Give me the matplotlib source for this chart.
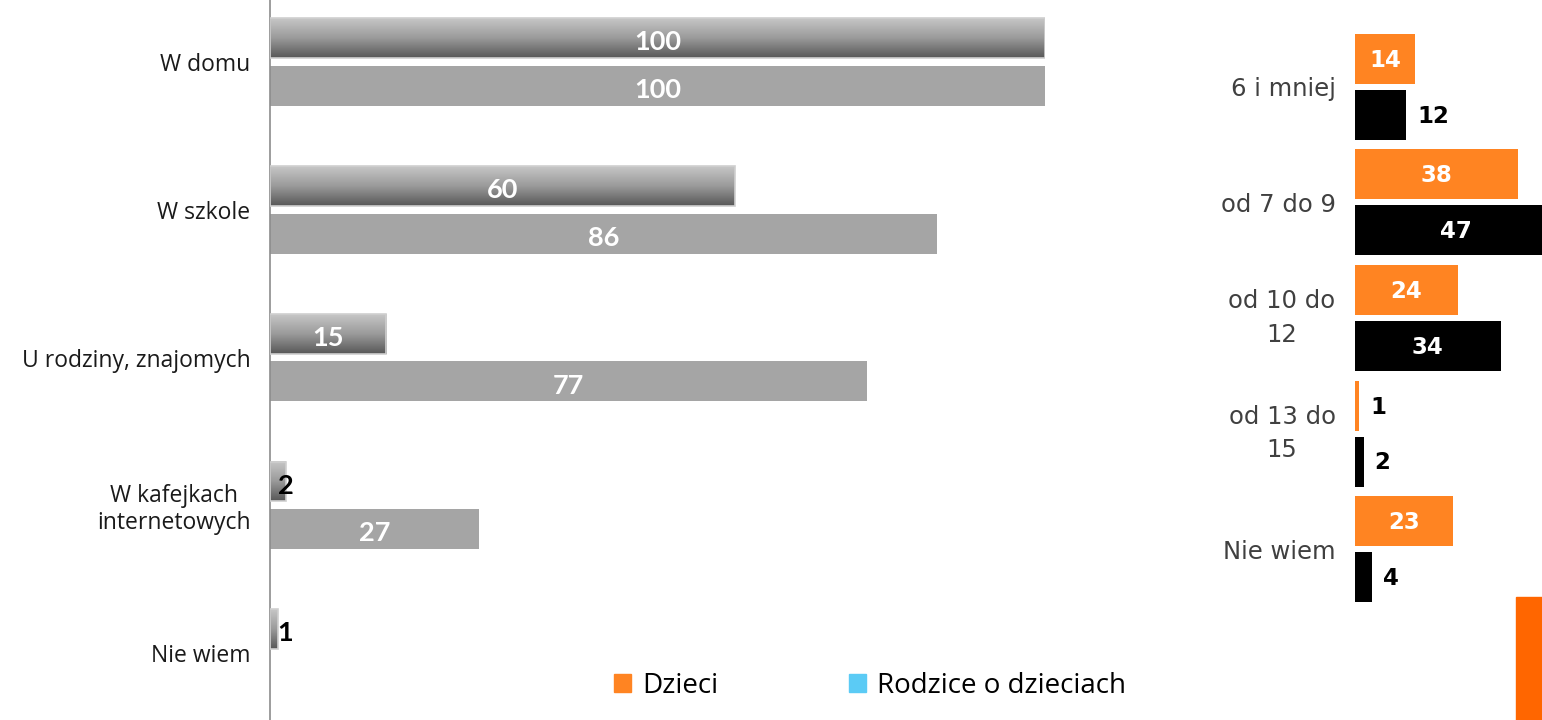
import numpy as np
import matplotlib
matplotlib.use("Agg")
import matplotlib.pyplot as plt
from matplotlib.patches import Rectangle, Patch
from matplotlib.colors import LinearSegmentedColormap

# Left panel: where children use the internet
places = ["W domu", "W szkole", "U rodziny, znajomych", "W kafejkach\ninternetowych", "Nie wiem"]
places_dzieci = [100, 60, 15, 2, 1]
places_rodzice = [100, 86, 77, 27, 0]

# Right panel: age of first use
ages = ["6 i mniej", "od 7 do 9", "od 10 do\n12", "od 13 do\n15", "Nie wiem"]
ages_dzieci = [14, 38, 24, 1, 23]
ages_rodzice = [12, 47, 34, 2, 4]

ORANGE = "#FF8422"
BLUE = "#5BCBF5"
FLAT_GRAY = "#A5A5A5"
DARK_TEXT = "#1A1A1A"
GRAD = LinearSegmentedColormap.from_list("grad", ["#C6C6C6", "#9A9A9A", "#585858"])

W, H = 1542, 720
fig = plt.figure(figsize=(W / 100, H / 100), dpi=100)

# ---------------------------------------------------------------- left panel
axl = fig.add_axes([270 / W, 0, 775 / W, 1])
axl.set_xlim(0, 100)
axl.set_ylim(4.453, -0.42)
bh = 0.27
off = 0.161
grad = np.linspace(0, 1, 64).reshape(-1, 1)
for i, (d, r) in enumerate(zip(places_dzieci, places_rodzice)):
    yt = i - off
    if d > 0:
        # gradient-filled bar (Dzieci)
        axl.imshow(grad, cmap=GRAD, aspect="auto", interpolation="bilinear",
                   extent=(0, d, yt + bh / 2, yt - bh / 2), zorder=2)
        axl.add_patch(Rectangle((0, yt - bh / 2), d, bh, fill=False,
                                edgecolor="#CFCFCF", linewidth=1.2, zorder=3))
    yb = i + off
    axl.barh(yb, r, height=bh, color=FLAT_GRAY, zorder=2)

    for val, yy in ((d, yt), (r, yb)):
        if val == 0:
            continue
        if val >= 10:
            axl.annotate(str(val), (val / 2, yy), xytext=(0, -3), textcoords="offset points",
                         ha="center", va="center", color="white", fontsize=19.5,
                         fontweight="bold", family="Lato", zorder=4)
        else:
            axl.annotate(str(val), (2, yy), xytext=(0, -3), textcoords="offset points",
                         ha="center", va="center", color="black", fontsize=19.5,
                         fontweight="bold", family="Lato", zorder=4)
axl.set_xlim(0, 100)
axl.set_ylim(4.453, -0.42)
axl.set_yticks(range(len(places)))
axl.set_yticklabels(places, fontsize=16.5, family="Open Sans", color=DARK_TEXT,
                    linespacing=1.15)
for lbl in axl.get_yticklabels():
    lbl.set_multialignment("center")
axl.tick_params(axis="y", length=0, pad=14)
axl.set_xticks([])
for s in ("top", "right", "bottom"):
    axl.spines[s].set_visible(False)
axl.spines["left"].set_color("#8C8C8C")
axl.spines["left"].set_linewidth(1.2)

# --------------------------------------------------------------- right panel
axr = fig.add_axes([1355 / W, (H - 607) / H, (W - 1355) / W, 578 / H])
axr.set_xlim(0, (W - 1355) / 4.28)
axr.set_ylim(4.5, -0.5)
rh = 0.433
roff = 0.242
yo = np.arange(len(ages)) - roff
yk = np.arange(len(ages)) + roff
axr.barh(yo, ages_dzieci, height=rh, color=ORANGE)
axr.barh(yk, ages_rodzice, height=rh, color="black")
for vals, ys in ((ages_dzieci, yo), (ages_rodzice, yk)):
    for v, yy in zip(vals, ys):
        if v >= 14:
            axr.annotate(str(v), (v / 2, yy), xytext=(0, -1), textcoords="offset points",
                         ha="center", va="center", color="white", fontsize=16.5,
                         fontweight="bold", family="DejaVu Sans")
        else:
            axr.annotate(str(v), (v, yy), xytext=(8, -1), textcoords="offset points",
                         ha="left", va="center", color="black", fontsize=16.5,
                         fontweight="bold", family="DejaVu Sans")
axr.set_yticks(range(len(ages)))
axr.set_yticklabels(ages, fontsize=17.5, family="DejaVu Sans", color="#404040",
                    linespacing=1.5)
for lbl in axr.get_yticklabels():
    lbl.set_multialignment("center")
    if "\n" in lbl.get_text():
        lbl.set_verticalalignment("center")
axr.tick_params(axis="y", length=0, pad=14)
axr.set_xticks([])
for s in axr.spines.values():
    s.set_visible(False)

# corner accent
fig.patches.append(Rectangle((1516 / W, 0), (W - 1516) / W, 123 / H,
                             transform=fig.transFigure, color="#FF6600", zorder=5))

# legend
handles = [Patch(color=ORANGE), Patch(color=BLUE)]
fig.legend(handles, ["Dzieci", "Rodzice o dzieciach"], ncol=2, loc="center",
           bbox_to_anchor=(870 / W, 1 - 686 / H), frameon=False,
           prop={"family": "Open Sans", "size": 20},
           handlelength=0.6, handleheight=0.6, handletextpad=0.4,
           columnspacing=4.7, borderpad=0)

fig.savefig("out.png", dpi=100, facecolor="white")
